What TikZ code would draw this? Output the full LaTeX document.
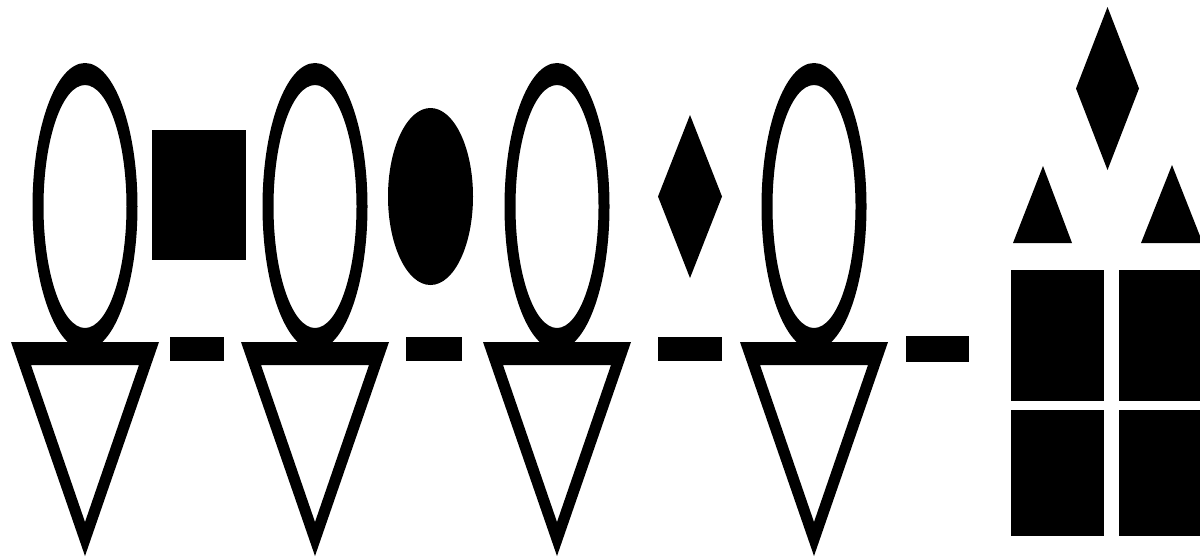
\documentclass[tikz,border=0pt]{standalone}
\usepackage{tikz}

\begin{document}
\begin{tikzpicture}[x=0.1mm, y=-0.1mm, ring/.style={fill=black, even odd rule}]
	\fill[white] (0,0) rectangle (1200,556);
	\useasboundingbox (0,0) rectangle (1200,556);
	% first figure and the square
	\fill[ring] (85,206.5) ellipse [x radius=52.5, y radius=143.5] (85,206.5) ellipse [x radius=41.5, y radius=121.5];
	\fill[ring] (11,342) -- (159,342) -- (85,556) -- cycle (31,365) -- (139,365) -- (85,522) -- cycle;
	\fill (152,130) rectangle (246,260);
	\fill (170,337) rectangle (224,361);
	% second figure and the disc
	\fill[ring] (315,206.5) ellipse [x radius=52.5, y radius=143.5] (315,206.5) ellipse [x radius=41.5, y radius=121.5];
	\fill[ring] (241,342) -- (389,342) -- (315,556) -- cycle (261,365) -- (369,365) -- (315,522) -- cycle;
	\fill (430.5,196.5) ellipse [x radius=42.5, y radius=88.5];
	\fill (406,337) rectangle (462,361);
	% third figure and the diamond
	\fill[ring] (557,206.5) ellipse [x radius=52.5, y radius=143.5] (557,206.5) ellipse [x radius=41.5, y radius=121.5];
	\fill[ring] (483,342) -- (631,342) -- (557,556) -- cycle (503,365) -- (611,365) -- (557,522) -- cycle;
	\fill (658,196.5) -- (690,115) -- (722,196.5) -- (690,278) -- cycle;
	\fill (658,337) rectangle (722,361);
	% fourth figure
	\fill[ring] (814,206.5) ellipse [x radius=52.5, y radius=143.5] (814,206.5) ellipse [x radius=41.5, y radius=121.5];
	\fill[ring] (740,342) -- (888,342) -- (814,556) -- cycle (760,365) -- (868,365) -- (814,522) -- cycle;
	\fill (906,336) rectangle (969,362);
	% house
	\fill (1076,88.5) -- (1107.5,7) -- (1139,88.5) -- (1107.5,170) -- cycle;
	\fill (1013,243) -- (1043,166) -- (1072,243) -- cycle;
	\fill (1141,243) -- (1172,165) -- (1200,236) -- (1200,243) -- cycle;
	\fill (1011,270) rectangle (1104,401);
	\fill (1119,270) rectangle (1200,401);
	\fill (1011,410) rectangle (1104,536);
	\fill (1119,410) rectangle (1200,536);
\end{tikzpicture}
\end{document}
